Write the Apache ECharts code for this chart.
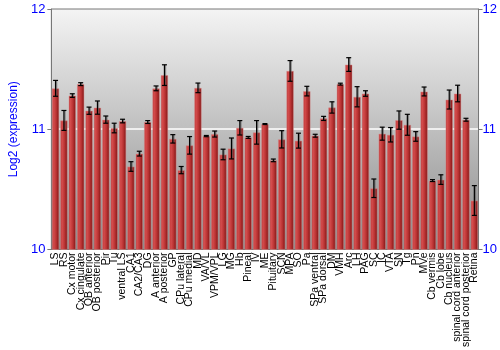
<!DOCTYPE html>
<html>
<head>
<meta charset="utf-8">
<script src="https://cdn.jsdelivr.net/npm/echarts@6/dist/echarts.min.js"></script>
<style>html,body{margin:0;padding:0;background:#fff;}#c{width:500px;height:350px;}</style>
</head>
<body>
<div id="c"></div>
<script>
const categories = ["LS","RS","Cx motor","Cx cingulate","OB anterior","OB posterior","Pir","Tu","ventral LS","CA1","CA2/CA3","DG","A anterior","A posterior","GP","CPu lateral","CPu medial","MD","VA/VL","VPM/VPL","LG","MG","Hb","Pineal","IV","ME","Pituitary","SCN","MPA","SO","Pa","SPa ventral","SPa dorsal","DM","VMH","Arc","LH","PAG","SC","IC","VTA","SN","Tg","Pn","MVe","Cb vermis","Cb lobe","Cb nucleus","spinal cord anterior","spinal cord posterior","Retina"];
const values = [11.34,11.073,11.28,11.375,11.154,11.18,11.08,11.01,11.068,10.69,10.797,11.06,11.34,11.45,10.92,10.66,10.866,11.344,10.943,10.96,10.79,10.84,11.012,10.932,10.974,11.043,10.741,10.916,11.485,10.905,11.317,10.946,11.09,11.181,11.375,11.538,11.27,11.297,10.509,10.963,10.954,11.076,11.037,10.94,11.314,10.573,10.581,11.247,11.297,11.079,10.407];
const errors = [0.066,0.083,0.015,0.012,0.03,0.055,0.03,0.04,0.015,0.04,0.02,0.012,0.02,0.086,0.035,0.03,0.073,0.04,0.005,0.025,0.044,0.087,0.06,0.008,0.098,0.004,0.011,0.072,0.086,0.062,0.04,0.012,0.017,0.047,0.008,0.057,0.084,0.023,0.077,0.054,0.06,0.076,0.087,0.04,0.037,0.008,0.04,0.079,0.069,0.012,0.124];
const yTicks = [10, 11, 12];

const chart = echarts.init(document.getElementById('c'), null, {renderer: 'canvas'});
const errData = values.map((v, i) => [i, v - errors[i], v + errors[i]]);
const blue = '#0000ff';
chart.setOption({
  animation: false,
  grid: {
    left: 34, right: 21, top: 9, bottom: 100,
    show: true,
    borderColor: '#777',
    borderWidth: 1,
    backgroundColor: new echarts.graphic.LinearGradient(0, 0, 0, 1, [
      {offset: 0, color: '#f4f4f4'},
      {offset: 1, color: '#8a8a8a'}
    ])
  },
  xAxis: {
    type: 'category',
    data: categories,
    axisTick: {show: false},
    axisLine: {show: true, lineStyle: {color: '#777'}},
    axisLabel: {
      rotate: 90, interval: 0, fontSize: 10.5, color: '#000',
      fontFamily: 'Liberation Sans, Arial, sans-serif', margin: 3
    }
  },
  yAxis: [{
    type: 'value', min: 10, max: 12, interval: 1,
    name: 'Log2 (expression)', nameLocation: 'middle', nameGap: 25,
    nameTextStyle: {color: blue, fontSize: 12, fontFamily: 'Liberation Sans, Arial, sans-serif'},
    axisLine: {show: true, lineStyle: {color: '#777'}},
    axisTick: {show: true, length: 4, lineStyle: {color: '#777'}},
    axisLabel: {color: blue, fontSize: 13, margin: 6, fontFamily: 'Liberation Sans, Arial, sans-serif',
      formatter: v => yTicks.includes(v) ? String(v) : ''},
    splitLine: {show: true, showMinLine: false, showMaxLine: false, lineStyle: {color: '#ffffff', width: 1.5}}
  }, {
    type: 'value', min: 10, max: 12, interval: 1, position: 'right',
    axisLine: {show: true, lineStyle: {color: '#777'}},
    axisTick: {show: true, length: 4, lineStyle: {color: '#777'}},
    axisLabel: {color: blue, fontSize: 13, margin: 4, fontFamily: 'Liberation Sans, Arial, sans-serif'},
    splitLine: {show: false}
  }],
  series: [{
    type: 'bar',
    data: values,
    barCategoryGap: '12%',
    itemStyle: {
      color: new echarts.graphic.LinearGradient(0, 0, 1, 0, [
        {offset: 0, color: '#b52a2a'},
        {offset: 0.25, color: '#d44c4c'},
        {offset: 0.6, color: '#b83232'},
        {offset: 1, color: '#7a1212'}
      ]),
      borderColor: 'rgba(220,140,140,0.6)',
      borderWidth: 0.8
    }
  }, {
    type: 'custom',
    data: errData,
    z: 5,
    renderItem: function (params, api) {
      const x = api.value(0);
      const lo = api.coord([x, api.value(1)]);
      const hi = api.coord([x, api.value(2)]);
      const cw = 2.5;
      const style = {stroke: '#000', lineWidth: 1.2};
      const shadow = {stroke: 'rgba(90,90,90,0.6)', lineWidth: 1.5};
      return {
        type: 'group',
        children: [
          {type: 'line', shape: {x1: hi[0] + 1, y1: hi[1], x2: lo[0] + 1, y2: lo[1]}, style: shadow},
          {type: 'line', shape: {x1: hi[0], y1: hi[1], x2: lo[0], y2: lo[1]}, style: style},
          {type: 'line', shape: {x1: hi[0] - cw, y1: hi[1], x2: hi[0] + cw, y2: hi[1]}, style: style},
          {type: 'line', shape: {x1: lo[0] - cw, y1: lo[1], x2: lo[0] + cw, y2: lo[1]}, style: style}
        ]
      };
    }
  }]
});
</script>
</body>
</html>
